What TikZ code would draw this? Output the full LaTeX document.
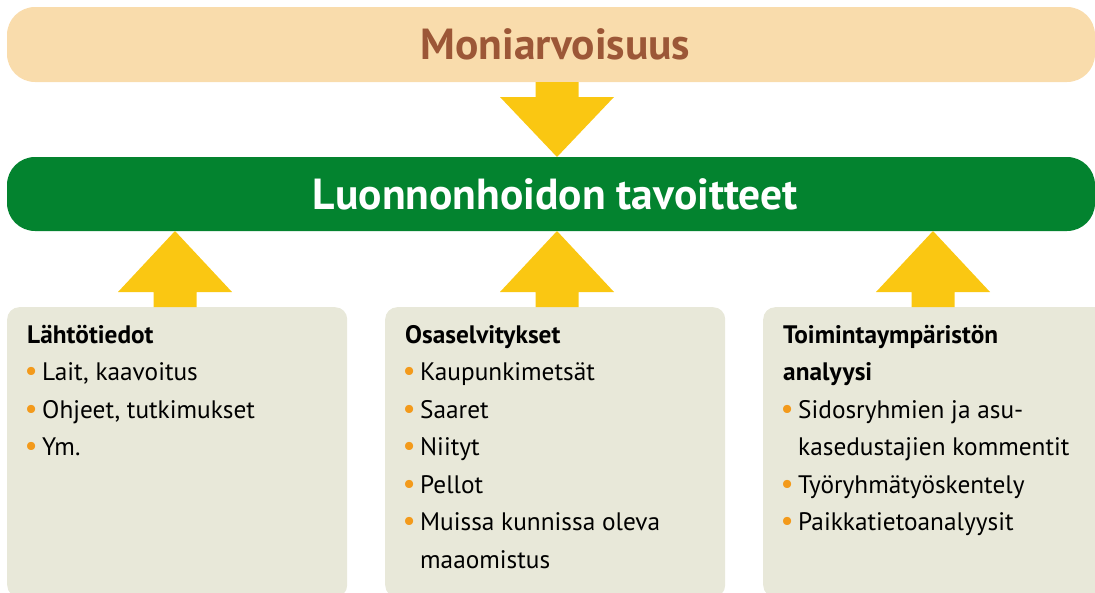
\documentclass[tikz,border=0pt]{standalone}
\usepackage{fontspec}
\setmainfont{PT Sans}
\usepackage{array}
\definecolor{peach}{HTML}{F9DCAC}
\definecolor{brownt}{HTML}{9C5737}
\definecolor{goalgreen}{HTML}{03832F}
\definecolor{arrowy}{HTML}{FAC712}
\definecolor{boxc}{HTML}{E8E8D9}
\definecolor{bulc}{HTML}{F39A1B}
\newcommand{\bul}{\hspace*{-2.5pt}\textcolor{bulc}{\scalebox{1.15}{•}}}
\begin{document}
\begin{tikzpicture}[x=1pt,y=-1pt,
  bar/.style={rounded corners=28pt, inner sep=0pt, minimum width=1088pt, minimum height=75pt},
  infobox/.style={fill=boxc, rounded corners=12pt, inner sep=0pt, minimum width=340pt, minimum height=290pt, anchor=north west},
  boxtext/.style={anchor=base west, inner sep=0pt, font=\fontsize{25.3}{37.5}\selectfont},
  arrowfill/.style={fill=arrowy},
  uparrow/.pic={\fill[arrowfill] (-21.5,0) -- (21.5,0) -- (21.5,-15) -- (57,-15) -- (0,-76) -- (-57,-15) -- (-21.5,-15) -- cycle;},
  downarrow/.pic={\fill[arrowfill] (-21.5,0) -- (21.5,0) -- (21.5,15) -- (57,15) -- (0,75) -- (-57,15) -- (-21.5,15) -- cycle;}
]
\useasboundingbox (0,0) rectangle (1095,592);
\clip (0,0) rectangle (1095,592);

\node[bar, fill=peach, text=brownt, font=\bfseries\fontsize{43.5}{43.5}\selectfont] (top) at (551,44.5) {\hspace*{9pt}Moniarvoisuus};
\node[bar, fill=goalgreen, text=white, font=\bfseries\fontsize{43.5}{43.5}\selectfont, minimum height=74pt] (goal) at (551,194) {\hspace*{9pt}Luonnonhoidon tavoitteet};

\node[infobox] (b1) at (7,307) {};
\node[infobox] (b2) at (385,307) {};
\node[infobox, minimum width=360pt] (b3) at (763,307) {};

\pic at (557,82) {downarrow};
\pic at (175,307) {uparrow};
\pic at (557,307) {uparrow};
\pic at (933,307) {uparrow};

\node[boxtext] (t1) at (27,343) {\begin{tabular}[t]{@{}p{15pt}@{}l@{}}
\multicolumn{2}{@{}l@{}}{\bfseries Lähtötiedot}\\
\bul & Lait, kaavoitus\\
\bul & Ohjeet, tutkimukset\\
\bul & Ym.
\end{tabular}};

\node[boxtext] (t2) at (405,343) {\begin{tabular}[t]{@{}p{15pt}@{}l@{}}
\multicolumn{2}{@{}l@{}}{\bfseries Osaselvitykset}\\
\bul & Kaupunkimetsät\\
\bul & Saaret\\
\bul & Niityt\\
\bul & Pellot\\
\bul & Muissa kunnissa oleva\\
 & maaomistus
\end{tabular}};

\node[boxtext] (t3) at (783,343) {\begin{tabular}[t]{@{}p{15pt}@{}l@{}}
\multicolumn{2}{@{}l@{}}{\bfseries Toimintaympäristön}\\
\multicolumn{2}{@{}l@{}}{\bfseries analyysi}\\
\bul & Sidosryhmien ja asu-\\
 & kasedustajien kommentit\\
\bul & Työryhmätyöskentely\\
\bul & Paikkatietoanalyysit
\end{tabular}};
\end{tikzpicture}
\end{document}
